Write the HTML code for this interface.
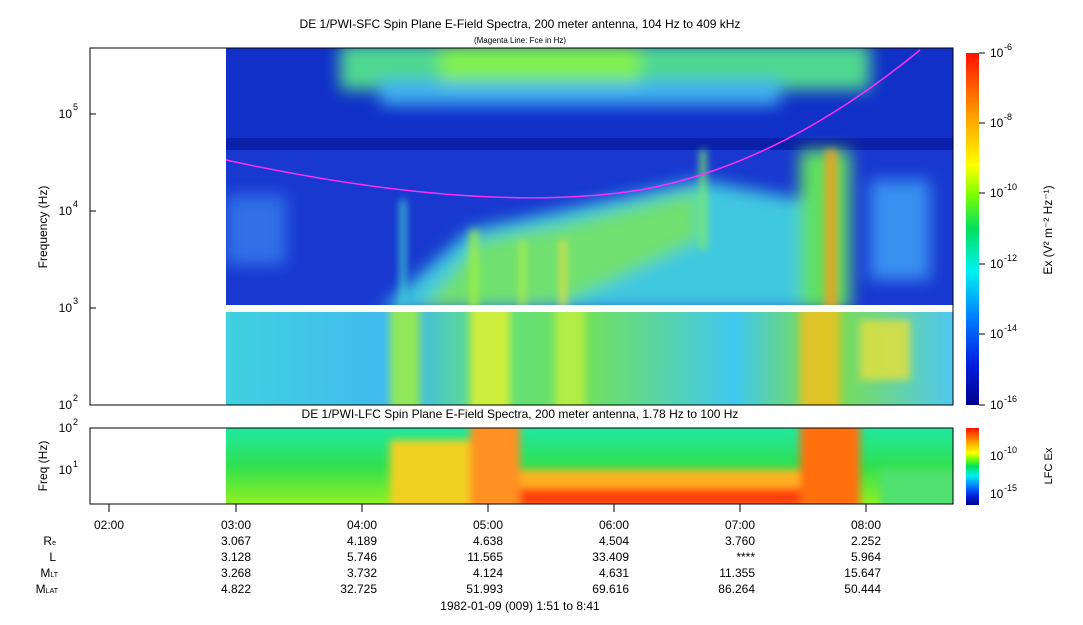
<!DOCTYPE html>
<html><head><style>
body{margin:0;background:#fff;width:1083px;height:620px;overflow:hidden;font-family:"Liberation Sans",sans-serif;}
svg text{font-family:"Liberation Sans",sans-serif;fill:#000}
</style></head><body>
<svg width="1083" height="620" viewBox="0 0 1083 620" xmlns="http://www.w3.org/2000/svg">
<defs>
<filter id="b4"><feGaussianBlur stdDeviation="4"/></filter>
<filter id="b8"><feGaussianBlur stdDeviation="8"/></filter>
<clipPath id="ctop"><rect x="226" y="48" width="727" height="257"/></clipPath>
<clipPath id="clow"><rect x="226" y="312" width="727" height="93"/></clipPath>
<clipPath id="cbot"><rect x="226" y="428" width="727" height="76"/></clipPath>
<linearGradient id="cb" x1="0" y1="1" x2="0" y2="0">
<stop offset="0" stop-color="#00008c"/><stop offset="0.12" stop-color="#0020e0"/><stop offset="0.25" stop-color="#0080ff"/>
<stop offset="0.38" stop-color="#00f0f0"/><stop offset="0.5" stop-color="#00e060"/><stop offset="0.6" stop-color="#80ff00"/>
<stop offset="0.68" stop-color="#ffff00"/><stop offset="0.82" stop-color="#ffa000"/><stop offset="1" stop-color="#ff1000"/>
</linearGradient>
<linearGradient id="lowband" x1="0" y1="0" x2="1" y2="0">
<stop offset="0" stop-color="#40d0e0"/><stop offset="0.25" stop-color="#40b8f0"/><stop offset="0.35" stop-color="#60e080"/>
<stop offset="0.5" stop-color="#70e060"/><stop offset="0.7" stop-color="#40c8f0"/><stop offset="0.82" stop-color="#80e040"/><stop offset="1" stop-color="#50c8f0"/>
</linearGradient>
<linearGradient id="lfc" x1="0" y1="0" x2="0" y2="1">
<stop offset="0" stop-color="#20e8a0"/><stop offset="0.5" stop-color="#30e050"/><stop offset="1" stop-color="#90f020"/>
</linearGradient>
</defs>
<text x="520" y="28" font-size="12" text-anchor="middle">DE 1/PWI-SFC  Spin Plane E-Field Spectra, 200 meter antenna, 104 Hz to 409 kHz</text>
<text x="520" y="43" font-size="8" text-anchor="middle">(Magenta Line: Fce in Hz)</text>

<!-- top panel -->
<rect x="226" y="48" width="727" height="257" fill="#1838d0"/>
<rect x="226" y="48" width="727" height="90" fill="#1030c8"/>
<rect x="226" y="138" width="727" height="12" fill="#0a20a8"/>
<g clip-path="url(#ctop)">
<g filter="url(#b8)">
<rect x="340" y="44" width="530" height="46" fill="#50d890"/>
<rect x="380" y="80" width="400" height="25" fill="#40b0f0"/>
<rect x="440" y="44" width="200" height="38" fill="#80f050"/>
<path d="M380,310 L470,230 L700,180 L830,205 L840,310 Z" fill="#40c8e0"/>
<path d="M420,310 L480,240 L560,225 L700,190 L700,240 L560,305 Z" fill="#70e070"/>
<rect x="226" y="195" width="60" height="70" fill="#3070e8"/>
<rect x="800" y="150" width="50" height="160" fill="#60e060"/>
<rect x="870" y="180" width="60" height="100" fill="#3890f0"/>
</g>
<g filter="url(#b4)" opacity="0.9">
<rect x="400" y="200" width="6" height="110" fill="#40d0d0"/>
<rect x="470" y="230" width="8" height="80" fill="#a0f040"/>
<rect x="520" y="240" width="5" height="70" fill="#c0f040"/>
<rect x="560" y="240" width="6" height="70" fill="#f0e040"/>
<rect x="700" y="150" width="6" height="100" fill="#80f060"/>
<rect x="825" y="150" width="12" height="160" fill="#f0a020"/>
</g>
</g>
<rect x="226" y="312" width="727" height="93" fill="url(#lowband)"/>
<g clip-path="url(#clow)">
<g filter="url(#b4)" opacity="0.85">
<rect x="390" y="305" width="30" height="110" fill="#a0f040"/>
<rect x="470" y="305" width="40" height="110" fill="#e0f030"/>
<rect x="555" y="305" width="30" height="110" fill="#c0f040"/>
<rect x="800" y="305" width="40" height="110" fill="#f0c020"/>
<rect x="860" y="320" width="50" height="60" fill="#e0e040"/>
</g>
</g>
<path d="M226,160 Q480,215 640,190 Q780,165 920,50" fill="none" stroke="#ff30ff" stroke-width="1.5"/>
<rect x="90" y="48" width="863" height="357" fill="none" stroke="#000"/>
<g font-size="12" text-anchor="end">
<text x="72" y="409">10</text><text x="78" y="401" font-size="9">2</text>
<text x="72" y="312">10</text><text x="78" y="304" font-size="9">3</text>
<text x="72" y="215">10</text><text x="78" y="207" font-size="9">4</text>
<text x="72" y="118">10</text><text x="78" y="110" font-size="9">5</text>
</g>
<g stroke="#000"><line x1="90" y1="308" x2="96" y2="308"/><line x1="90" y1="211" x2="96" y2="211"/><line x1="90" y1="114" x2="96" y2="114"/></g>
<text transform="translate(47,227) rotate(-90)" font-size="12" text-anchor="middle">Frequency (Hz)</text>

<!-- top colorbar -->
<rect x="966" y="53" width="13" height="352" fill="url(#cb)"/>
<g stroke="#000"><line x1="979" y1="53" x2="985" y2="53"/><line x1="979" y1="123" x2="985" y2="123"/><line x1="979" y1="193" x2="985" y2="193"/><line x1="979" y1="264" x2="985" y2="264"/><line x1="979" y1="334" x2="985" y2="334"/><line x1="979" y1="405" x2="985" y2="405"/></g>
<g font-size="12">
<text x="990" y="57">10</text><text x="1004" y="50" font-size="9">-6</text>
<text x="990" y="127">10</text><text x="1004" y="120" font-size="9">-8</text>
<text x="990" y="197">10</text><text x="1004" y="190" font-size="9">-10</text>
<text x="990" y="268">10</text><text x="1004" y="261" font-size="9">-12</text>
<text x="990" y="338">10</text><text x="1004" y="331" font-size="9">-14</text>
<text x="990" y="409">10</text><text x="1004" y="402" font-size="9">-16</text>
</g>
<text transform="translate(1052,230) rotate(-90)" font-size="12" text-anchor="middle">Ex (V² m⁻² Hz⁻¹)</text>

<!-- bottom panel -->
<text x="520" y="418" font-size="12" text-anchor="middle">DE 1/PWI-LFC  Spin Plane E-Field Spectra, 200 meter antenna, 1.78 Hz to 100 Hz</text>
<rect x="226" y="428" width="727" height="76" fill="url(#lfc)"/>
<g clip-path="url(#cbot)">
<g filter="url(#b4)">
<rect x="390" y="440" width="130" height="70" fill="#f0d020"/>
<rect x="470" y="420" width="50" height="90" fill="#ff9020"/>
<rect x="520" y="470" width="300" height="40" fill="#ffb020"/>
<rect x="520" y="488" width="320" height="20" fill="#ff4010"/>
<rect x="800" y="420" width="60" height="90" fill="#ff7010"/>
<rect x="880" y="470" width="80" height="40" fill="#50e070"/>
</g>
</g>
<rect x="90" y="428" width="863" height="76" fill="none" stroke="#000"/>
<g font-size="12" text-anchor="end">
<text x="72" y="432">10</text><text x="78" y="425" font-size="9">2</text>
<text x="72" y="474">10</text><text x="78" y="467" font-size="9">1</text>
</g>
<text transform="translate(47,466) rotate(-90)" font-size="12" text-anchor="middle">Freq (Hz)</text>
<rect x="966" y="428" width="13" height="77" fill="url(#cb)"/>
<g font-size="12">
<text x="990" y="460">10</text><text x="1004" y="453" font-size="9">-10</text>
<text x="990" y="498">10</text><text x="1004" y="491" font-size="9">-15</text>
</g>
<text transform="translate(1052,466) rotate(-90)" font-size="11" text-anchor="middle">LFC Ex</text>

<!-- time axis -->
<g stroke="#000">
<line x1="109" y1="504" x2="109" y2="512"/><line x1="236" y1="504" x2="236" y2="512"/><line x1="362" y1="504" x2="362" y2="512"/>
<line x1="488" y1="504" x2="488" y2="512"/><line x1="614" y1="504" x2="614" y2="512"/><line x1="740" y1="504" x2="740" y2="512"/><line x1="866" y1="504" x2="866" y2="512"/>
</g>
<g font-size="12" text-anchor="middle">
<text x="109" y="529">02:00</text><text x="236" y="529">03:00</text><text x="362" y="529">04:00</text><text x="488" y="529">05:00</text><text x="614" y="529">06:00</text><text x="740" y="529">07:00</text><text x="866" y="529">08:00</text>
</g>
<g font-size="12" text-anchor="end">
<text x="56" y="545">R<tspan font-size="7">e</tspan></text>
<text x="56" y="561">L</text>
<text x="58" y="577">M<tspan font-size="7">LT</tspan></text>
<text x="58" y="593">M<tspan font-size="7">LAT</tspan></text>
</g>
<g font-size="12" text-anchor="end">
<text x="251" y="545">3.067</text><text x="377" y="545">4.189</text><text x="503" y="545">4.638</text><text x="629" y="545">4.504</text><text x="755" y="545">3.760</text><text x="881" y="545">2.252</text>
<text x="251" y="561">3.128</text><text x="377" y="561">5.746</text><text x="503" y="561">11.565</text><text x="629" y="561">33.409</text><text x="755" y="561">****</text><text x="881" y="561">5.964</text>
<text x="251" y="577">3.268</text><text x="377" y="577">3.732</text><text x="503" y="577">4.124</text><text x="629" y="577">4.631</text><text x="755" y="577">11.355</text><text x="881" y="577">15.647</text>
<text x="251" y="593">4.822</text><text x="377" y="593">32.725</text><text x="503" y="593">51.993</text><text x="629" y="593">69.616</text><text x="755" y="593">86.264</text><text x="881" y="593">50.444</text>
</g>
<text x="520" y="610" font-size="12" text-anchor="middle">1982-01-09 (009) 1:51 to 8:41</text>
</svg>
</body></html>
